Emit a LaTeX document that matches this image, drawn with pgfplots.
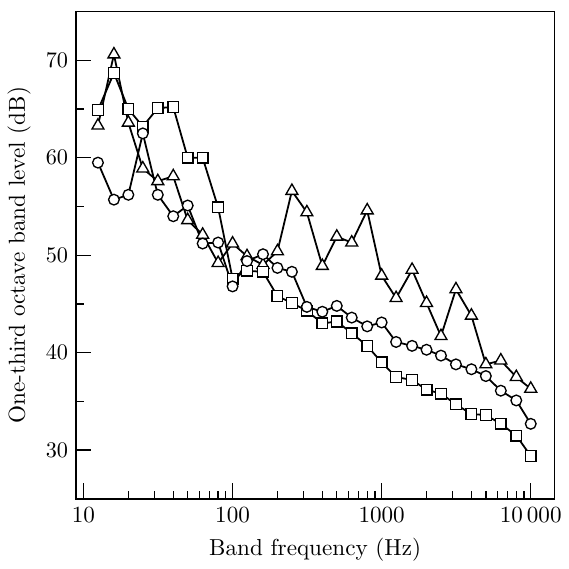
\documentclass[border=0pt]{standalone}
\usepackage{pgfplots}
\pgfplotsset{compat=1.18}
\usepackage{pgfplotstable}

% one-third octave band levels
\pgfplotstableread{
f     tri   sq    circ
12.5  63.3  64.9  59.5
16    70.6  68.7  55.7
20    63.6  65.0  56.2
25    58.9  63.2  62.5
31.5  57.6  65.1  56.2
40    58.1  65.2  54.0
50    53.6  60.0  55.1
63    52.1  60.0  51.2
80    49.2  54.9  51.3
100   51.2  47.6  46.8
125   49.9  48.4  49.4
160   49.0  48.3  50.1
200   50.4  45.8  48.7
250   56.6  45.1  48.3
315   54.4  44.3  44.7
400   48.9  43.0  44.2
500   51.9  43.2  44.8
630   51.3  42.0  43.6
800   54.6  40.7  42.7
1000  47.9  39.0  43.1
1250  45.6  37.5  41.1
1600  48.5  37.2  40.7
2000  45.1  36.2  40.3
2500  41.7  35.8  39.7
3150  46.5  34.7  38.8
4000  43.8  33.7  38.3
5000  38.8  33.6  37.6
6300  39.2  32.7  36.1
8000  37.5  31.5  35.1
10000 36.3  29.4  32.7
}\bands

\begin{document}
\begin{tikzpicture}[font=\fontsize{10.4}{12.5}\selectfont]
\begin{semilogxaxis}[
  scale only axis,
  width=215pt, height=219pt,
  xmin=8.9, xmax=14400,
  ymin=25, ymax=75,
  xtick={10,100,1000,10000},
  xticklabels={10,100,1000,10\,000},
  ytick={30,40,50,60,70},
  minor ytick={35,45,55,65},
  tick align=inside,
  tick pos=left,
  major tick length=7pt,
  minor tick length=3.6pt,
  every tick/.style={black, line width=0.6pt},
  axis line style={line width=0.6pt},
  xlabel={Band frequency (Hz)},
  ylabel={One-third octave band level (dB)},
  every axis plot/.append style={black, thick, mark options={fill=white, draw=black, line width=0.6pt, solid}},
]
\addplot[mark=triangle*, mark size=3.1pt] table[x=f, y=tri] {\bands};
\addplot[mark=square*, mark size=2.4pt] table[x=f, y=sq] {\bands};
\addplot[mark=*, mark size=2.4pt] table[x=f, y=circ] {\bands};
\end{semilogxaxis}
% white room round the figure, as in the reference
\path ([yshift=5.2pt]current axis.north) ([xshift=-4.5pt]current axis.west);
\end{tikzpicture}
\end{document}
